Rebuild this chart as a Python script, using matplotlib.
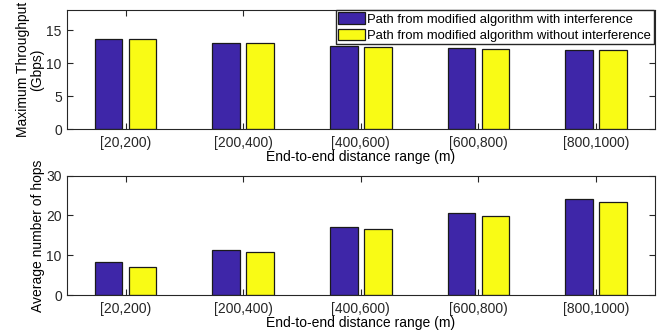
import numpy as np
import matplotlib
matplotlib.use('Agg')
import matplotlib.pyplot as plt

plt.rcParams['font.family'] = ['Liberation Sans', 'DejaVu Sans']

# data
ranges = ['[20,200)', '[200,400)', '[400,600)', '[600,800)', '[800,1000)']
thr_with = [13.68, 13.08, 12.57, 12.32, 12.06]
thr_without = [13.63, 13.05, 12.42, 12.16, 11.96]
hops_with = [8.2, 11.25, 17.0, 20.5, 24.2]
hops_without = [7.0, 10.75, 16.5, 19.8, 23.5]

labels = ['Path from modified algorithm with interference',
          'Path from modified algorithm without interference']
c_blue = '#3e26a8'
c_yellow = '#f9fb15'

fig = plt.figure(figsize=(6.58, 3.33), dpi=100)
ax1 = fig.add_axes([0.1014, 0.6117, 0.894, 0.3573])
ax2 = fig.add_axes([0.1014, 0.1141, 0.894, 0.3583])

x = np.arange(1, len(ranges) + 1)
w = 0.235
off = 0.145


def style(ax, ymax, yt):
    ax.set_xlim(0.5, 5.5)
    ax.set_ylim(0, ymax)
    ax.set_yticks(yt)
    ax.set_xticks(x)
    ax.set_xticklabels(ranges)
    ax.tick_params(direction='in', length=4, width=0.8, labelsize=10,
                   top=True, right=True, colors='#262626')
    ax.tick_params(axis='x', pad=5)
    ax.tick_params(axis='y', pad=3.5)
    for s in ax.spines.values():
        s.set_color('#262626')
        s.set_linewidth(0.8)
    ax.set_xlabel('End-to-end distance range (m)', fontsize=10, labelpad=0)


b1 = ax1.bar(x - off, thr_with, w, color=c_blue, edgecolor='#1a1a1a', linewidth=0.9)
b2 = ax1.bar(x + off, thr_without, w, color=c_yellow, edgecolor='#1a1a1a', linewidth=0.9)
style(ax1, 18, [0, 5, 10, 15])
ax1.set_ylabel('Maximum Throughput\n(Gbps)', fontsize=10, labelpad=2, linespacing=1.0)
ax1.legend([b1, b2], labels, loc='upper right', bbox_to_anchor=(0.9977, 1.005),
           fontsize=9.4, frameon=True, fancybox=False, framealpha=1,
           edgecolor='#262626', borderpad=0.2, labelspacing=0.22,
           handlelength=2.0, handleheight=1.0, handletextpad=0.2,
           borderaxespad=0)

ax2.bar(x - off, hops_with, w, color=c_blue, edgecolor='#1a1a1a', linewidth=0.9)
ax2.bar(x + off, hops_without, w, color=c_yellow, edgecolor='#1a1a1a', linewidth=0.9)
style(ax2, 30, [0, 10, 20, 30])
ax2.set_ylabel('Average number of hops', fontsize=10, labelpad=1)

fig.savefig('out.png', dpi=100)
